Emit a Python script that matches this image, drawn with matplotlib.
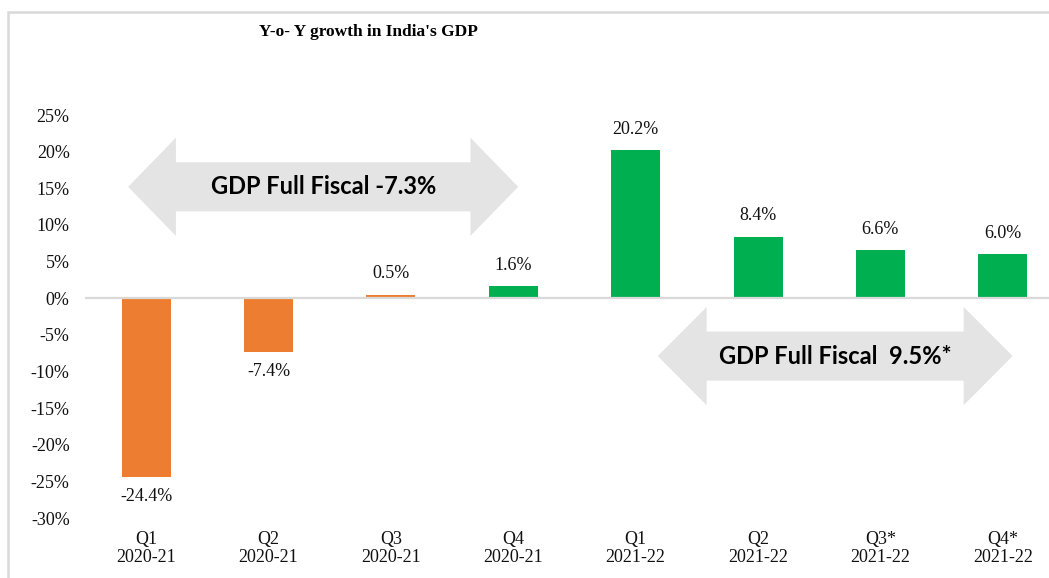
import matplotlib.pyplot as plt
from matplotlib.patches import Polygon, Rectangle

# data
quarters = ['Q1\n2020-21', 'Q2\n2020-21', 'Q3\n2020-21', 'Q4\n2020-21',
            'Q1\n2021-22', 'Q2\n2021-22', 'Q3*\n2021-22', 'Q4*\n2021-22']
growth = [-24.4, -7.4, 0.5, 1.6, 20.2, 8.4, 6.6, 6.0]
yticks = [-30, -25, -20, -15, -10, -5, 0, 5, 10, 15, 20, 25]

ORANGE = '#ED7D31'
GREEN = '#00B050'
bar_colors = [ORANGE, ORANGE, ORANGE, GREEN, GREEN, GREEN, GREEN, GREEN]


def double_arrow(ax, x0, x1, yc, head, shaft_h, head_h):
    """双向箭头(数据坐标)"""
    pts = [(x0, yc), (x0 + head, yc + head_h), (x0 + head, yc + shaft_h),
           (x1 - head, yc + shaft_h), (x1 - head, yc + head_h), (x1, yc),
           (x1 - head, yc - head_h), (x1 - head, yc - shaft_h),
           (x0 + head, yc - shaft_h), (x0 + head, yc - head_h)]
    ax.add_patch(Polygon(pts, closed=True, facecolor='#E4E4E4', edgecolor='none', zorder=1))


fig = plt.figure(figsize=(10.49, 5.78), dpi=100)
ax = fig.add_axes([0.0810, 0.1038, 0.9333, 0.6972])

x = range(len(quarters))
ax.bar(x, growth, width=0.4, color=bar_colors, zorder=2)
ax.axhline(0, color='#D9D9D9', lw=1.6, zorder=3)

for i, v in enumerate(growth):
    off = 15 if v > 0 else -14
    ax.annotate('%.1f%%' % v, (i, v), xytext=(0, off), textcoords='offset points',
                ha='center', va='center', fontsize=13, family='Liberation Serif', color='#111111')

ax.set_xlim(-0.5, 7.5)
ax.set_ylim(-30, 25)
ax.set_yticks(yticks)
ax.set_yticklabels(['%d%%' % t for t in yticks])
ax.set_xticks(list(x))
ax.set_xticklabels(quarters, linespacing=1.15)
ax.tick_params(length=0, labelsize=13, colors='#111111')
ax.tick_params(axis='y', pad=11)
ax.tick_params(axis='x', pad=9)
for lab in ax.get_xticklabels() + ax.get_yticklabels():
    lab.set_family('Liberation Serif')
for s in ax.spines.values():
    s.set_visible(False)

# 全年增长箭头
double_arrow(ax, -0.147, 3.04, 15.2, 0.39, 3.35, 6.7)
ax.text(1.45, 15.2, 'GDP Full Fiscal -7.3%', ha='center', va='center',
        fontsize=17, fontweight='bold', family='Lato', color='black', zorder=4)
double_arrow(ax, 4.18, 7.08, -7.9, 0.40, 3.35, 6.7)
ax.text(5.63, -7.9, 'GDP Full Fiscal  9.5%*', ha='center', va='center',
        fontsize=17, fontweight='bold', family='Lato', color='black', zorder=4)

fig.text(0.351, 0.944, "Y-o- Y growth in India's GDP", ha='center', va='center',
         fontsize=12.5, fontweight='bold', family='Liberation Serif')

# 外框
fig.patches.append(Rectangle((0.0072, -0.1), 1.1, 1.08, transform=fig.transFigure,
                             fill=False, edgecolor='#D9D9D9', lw=1.8))

fig.savefig('out.png', dpi=100)
